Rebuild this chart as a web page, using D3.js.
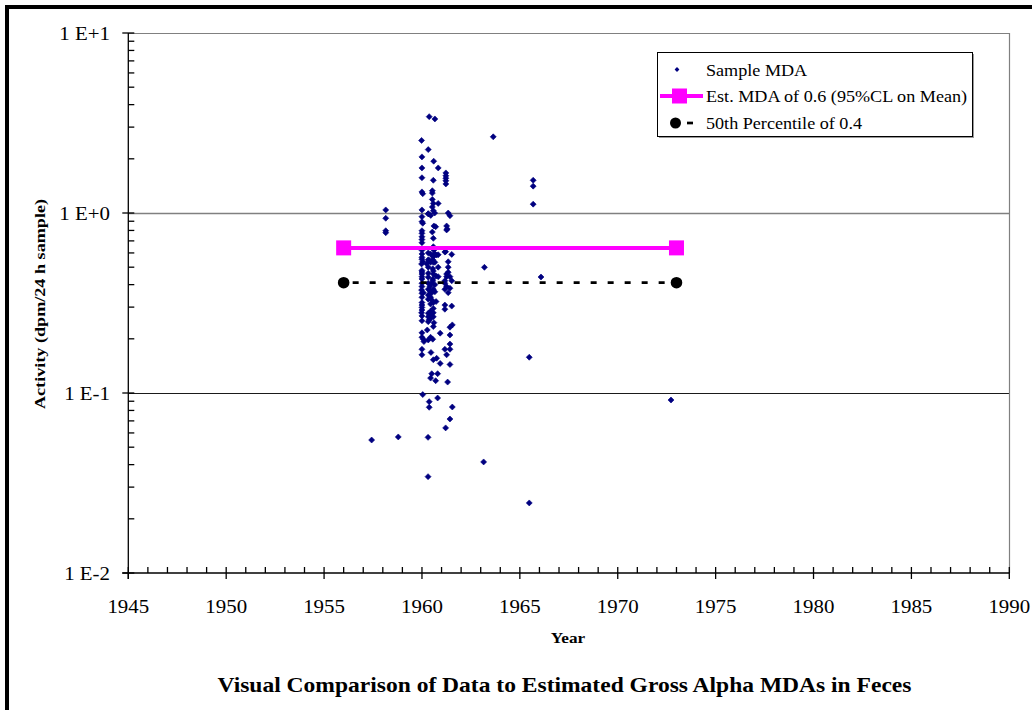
<!DOCTYPE html>
<html>
<head>
<meta charset="utf-8">
<script src="https://cdn.jsdelivr.net/npm/d3@7"></script>
<style>
html,body{margin:0;padding:0;background:#fff;}
svg{display:block;}
text{font-family:"Liberation Serif","Times New Roman",serif;fill:#000;}
</style>
</head>
<body>
<svg id="chart" width="1032" height="710"></svg>
<script>
// ---------- data ----------
const sampleYears = [
1960.37,1960.66,1963.64,1959.98,1960.32,1960.00,1960.60,1960.83,1960.00,1961.22,
1961.22,1961.22,1961.22,1961.22,1960.00,1960.58,1960.00,1960.04,1960.53,1960.53,
1960.53,1960.58,1960.83,1960.53,1960.58,1960.65,1960.32,1960.00,1961.34,1961.43,
1960.00,1960.00,1960.04,1960.61,1960.70,1961.26,1961.29,1961.26,1960.00,1960.00,
1960.53,1960.00,1960.00,1960.00,1960.58,1960.58,1960.61,1960.00,1960.00,1960.44,
1960.66,1960.83,1961.17,1961.52,1960.58,
1960.00,1960.04,1959.98,1960.55,1960.75,1960.37,1960.44,1960.58,1960.66,1960.24,
1960.83,1961.34,1961.34,1961.21,1963.19,
1960.32,1960.00,1960.00,1960.58,1960.58,1960.72,1960.83,1961.34,1961.26,1961.43,
1961.26,1960.00,1960.00,1959.98,1960.00,1960.07,1960.32,1960.41,1960.50,1960.32,
1960.44,1960.32,1960.58,1960.66,1961.17,1961.26,1961.43,1961.34,1961.17,1960.32,
1960.50,1960.58,1960.72,1960.44,1960.00,1960.00,1960.00,1960.00,1959.98,1960.00,
1960.00,1961.52,1961.17,1961.17,1960.32,1960.44,1960.58,1960.32,1960.44,1960.58,
1960.37,1960.32,1960.61,1960.58,1960.27,1960.00,1960.00,1960.07,1960.10,1960.44,
1960.55,1960.32,1960.93,1961.43,1961.55,1961.43,1961.43,1961.17,1961.43,1961.26,
1960.00,1960.00,1960.46,1960.58,1960.75,1960.93,1961.43,1960.50,1960.80,1960.44,
1960.70,1961.31,1960.04,1960.37,1960.80,1960.37,1961.55,1961.43,1961.21,1960.31,
1965.48,1957.43,1958.79,1963.15,1960.31,1965.48,1972.72,1958.15,1958.15,1958.15,
1958.15,1965.68,1965.68,1965.68,1966.08,
1960.00,1960.00,1960.00,1960.00,1960.32,1960.32,1960.32,1960.32,1960.55,1960.55,
1960.55,1960.55,1960.66,1960.50,1960.00,1960.44,1960.58,1960.44,1961.52,1961.17,
1960.32,1960.45
];
const sampleValues = [
3.43,3.33,2.65,2.53,2.25,2.05,1.94,1.78,1.78,1.67,
1.61,1.56,1.51,1.45,1.57,1.52,1.31,1.28,1.33,1.29,
1.19,1.13,1.13,1.08,1.03,1.00,0.99,1.04,1.00,0.966,
0.954,0.895,0.877,0.847,0.839,0.847,0.815,0.805,0.797,0.771,
0.784,0.738,0.712,0.684,0.723,0.650,0.623,0.592,0.567,0.592,
0.592,0.586,0.607,0.589,0.572,
0.553,0.536,0.521,0.582,0.585,0.545,0.532,0.532,0.532,0.522,
0.500,0.500,0.536,0.610,0.499,
0.462,0.458,0.443,0.476,0.458,0.447,0.443,0.469,0.458,0.443,
0.443,0.407,0.390,0.373,0.358,0.361,0.407,0.390,0.407,0.377,
0.365,0.350,0.377,0.365,0.407,0.390,0.382,0.361,0.377,0.332,
0.329,0.318,0.322,0.312,0.318,0.308,0.299,0.289,0.279,0.268,
0.252,0.304,0.308,0.292,0.277,0.271,0.279,0.265,0.260,0.265,
0.255,0.249,0.246,0.234,0.224,0.216,0.204,0.199,0.193,0.204,
0.199,0.197,0.215,0.232,0.239,0.210,0.187,0.175,0.175,0.163,
0.175,0.163,0.168,0.153,0.156,0.146,0.144,0.128,0.128,0.121,
0.117,0.115,0.098,0.0895,0.0938,0.0833,0.0836,0.0717,0.064,0.0567,
0.158,0.0548,0.057,0.0414,0.0343,0.0245,0.0914,1.04,0.935,0.797,
0.777,1.52,1.41,1.12,0.441,
0.62,0.48,0.47,0.43,0.60,0.55,0.50,0.44,0.55,0.49,
0.43,0.42,0.40,0.36,0.34,0.34,0.295,0.285,0.42,0.42,
0.99,0.97
];
const estYears = [1956, 1973];
const estValues = [0.64, 0.64];
const p50Years = [1956, 1973];
const p50Values = [0.41, 0.41];
const xTickValues = [1945,1950,1955,1960,1965,1970,1975,1980,1985,1990];
const yTickValues = [10, 1, 0.1, 0.01];
const yTickLabels = ["1 E+1","1 E+0","1 E-1","1 E-2"];
const legendLabels = ["Sample MDA","Est. MDA of 0.6 (95%CL on Mean)","50th Percentile of 0.4"];
const titleText = "Visual Comparison of Data to Estimated Gross Alpha MDAs in Feces";
const xTitle = "Year";
const yTitle = "Activity (dpm/24 h sample)";

// ---------- layout ----------
const svg = d3.select("#chart");
const L = 128.3, R = 1009.3, T = 33, B = 573;
const x = d3.scaleLinear().domain([1945, 1990]).range([L, R]);
const y = d3.scaleLog().domain([0.01, 10]).range([B, T]);
const navy = "#000080", pink = "#FF00FF";

// horizontal stretch helper (reference text is rendered slightly wide)
function stretch(sel, factor) {
  sel.each(function() {
    const w = this.getComputedTextLength();
    d3.select(this).attr("textLength", w * factor).attr("lengthAdjust", "spacingAndGlyphs");
  });
}

// outer frame
svg.append("rect").attr("x", 7).attr("y", 7).attr("width", 1100).attr("height", 800)
  .attr("fill", "none").attr("stroke", "#000").attr("stroke-width", 4);

// gridlines
const gridColor = {10: "#808080", 1: "#808080", 0.1: "#1a1a1a"};
[10, 1, 0.1].forEach(v => {
  svg.append("line").attr("x1", L).attr("x2", R)
    .attr("y1", Math.round(y(v)) + 0.5).attr("y2", Math.round(y(v)) + 0.5)
    .attr("stroke", gridColor[v]).attr("stroke-width", v === 1 ? 1.6 : 1.2);
});
// right border
svg.append("line").attr("x1", Math.round(R) + 0.5).attr("x2", Math.round(R) + 0.5)
  .attr("y1", T).attr("y2", B).attr("stroke", "#808080").attr("stroke-width", 1.2);

// axes lines
const ax = svg.append("g").attr("stroke", "#000").attr("stroke-width", 1.3);
ax.append("line").attr("x1", L).attr("x2", L).attr("y1", T).attr("y2", B + 6);
ax.append("line").attr("x1", L - 6).attr("x2", R).attr("y1", B).attr("y2", B);

// x ticks
d3.range(1945, 1991).forEach(yr => {
  const major = yr % 5 === 0;
  ax.append("line").attr("x1", x(yr)).attr("x2", x(yr))
    .attr("y1", B - 6).attr("y2", major ? B + 6 : B);
});
// y ticks
for (let e = -2; e <= 1; e++) {
  const base = Math.pow(10, e);
  ax.append("line").attr("x1", L - 6).attr("x2", L + 6).attr("y1", y(base)).attr("y2", y(base));
  if (e < 1) {
    for (let m = 2; m <= 9; m++) {
      ax.append("line").attr("x1", L).attr("x2", L + 6)
        .attr("y1", y(base * m)).attr("y2", y(base * m));
    }
  }
}

// tick labels
const xl = svg.append("g").selectAll("text").data(xTickValues).join("text")
  .attr("x", d => x(d)).attr("y", 613).attr("text-anchor", "middle")
  .attr("font-size", 19).text(d => d);
stretch(xl, 1.1);
const yl = svg.append("g").selectAll("text").data(yTickValues).join("text")
  .attr("x", 110).attr("y", d => y(d) + 7).attr("text-anchor", "end")
  .attr("font-size", 19).text((d, i) => yTickLabels[i]);
stretch(yl, 1.1);

// axis titles
const xt = svg.append("text").attr("x", 568).attr("y", 643).attr("text-anchor", "middle")
  .attr("font-size", 15).attr("font-weight", "bold").text(xTitle);
stretch(xt, 1.15);
const yt = svg.append("text").attr("transform", "translate(45,304) rotate(-90)")
  .attr("text-anchor", "middle").attr("font-size", 15.5).attr("font-weight", "bold").text(yTitle);
stretch(yt, 1.17);
const tt = svg.append("text").attr("x", 564.5).attr("y", 692).attr("text-anchor", "middle")
  .attr("font-size", 21).attr("font-weight", "bold").text(titleText);
stretch(tt, 1.12);

// sample points
const diamond = "M0,-3L3,0L0,3L-3,0Z";
const samples = sampleYears.map((yr, i) => ({yr, v: sampleValues[i]}));
svg.append("g").selectAll("path").data(samples).join("path")
  .attr("d", diamond).attr("fill", navy).attr("stroke", navy).attr("stroke-width", 0.6)
  .attr("transform", d => `translate(${x(d.yr)},${y(d.v)})`);

// estimated MDA line
const line = d3.line().x(d => x(d[0])).y(d => y(d[1]));
const est = estYears.map((yr, i) => [yr, estValues[i]]);
svg.append("path").attr("d", line(est)).attr("stroke", pink).attr("stroke-width", 4).attr("fill", "none");
svg.append("g").selectAll("rect").data(est).join("rect")
  .attr("x", d => x(d[0]) - 7.5).attr("y", d => y(d[1]) - 7.5)
  .attr("width", 15).attr("height", 15).attr("fill", pink);

// 50th percentile line
const p50 = p50Years.map((yr, i) => [yr, p50Values[i]]);
svg.append("path").attr("d", line(p50)).attr("stroke", "#000").attr("stroke-width", 2.7)
  .attr("stroke-dasharray", "6,11").attr("stroke-dashoffset", -9).attr("fill", "none");
svg.append("g").selectAll("circle").data(p50).join("circle")
  .attr("cx", d => x(d[0])).attr("cy", d => y(d[1])).attr("r", 5.8).attr("fill", "#000");

// legend
const lg = svg.append("g");
lg.append("rect").attr("x", 657.5).attr("y", 52.5).attr("width", 315).attr("height", 84)
  .attr("fill", "#fff").attr("stroke", "#000").attr("stroke-width", 1);
lg.append("line").attr("x1", 659).attr("x2", 974).attr("y1", 137.5).attr("y2", 137.5).attr("stroke", "#999");
lg.append("line").attr("x1", 973.5).attr("x2", 973.5).attr("y1", 54).attr("y2", 138).attr("stroke", "#999");
const rows = [69.5, 96, 123];
lg.append("path").attr("d", diamond).attr("fill", navy).attr("transform", `translate(677,${rows[0]}) scale(0.8)`);
lg.append("line").attr("x1", 660).attr("x2", 703).attr("y1", rows[1]).attr("y2", rows[1])
  .attr("stroke", pink).attr("stroke-width", 4);
lg.append("rect").attr("x", 672).attr("y", rows[1] - 7.5).attr("width", 15).attr("height", 15).attr("fill", pink);
lg.append("circle").attr("cx", 675.5).attr("cy", rows[2]).attr("r", 5.5).attr("fill", "#000");
lg.append("line").attr("x1", 687).attr("x2", 693).attr("y1", rows[2]).attr("y2", rows[2])
  .attr("stroke", "#000").attr("stroke-width", 2.7);
const lt = lg.selectAll("text.lab").data(legendLabels).join("text").attr("class", "lab")
  .attr("x", 706).attr("y", (d, i) => rows[i] + 6).attr("font-size", 17).text(d => d);
stretch(lt, 1.066);
</script>
</body>
</html>
